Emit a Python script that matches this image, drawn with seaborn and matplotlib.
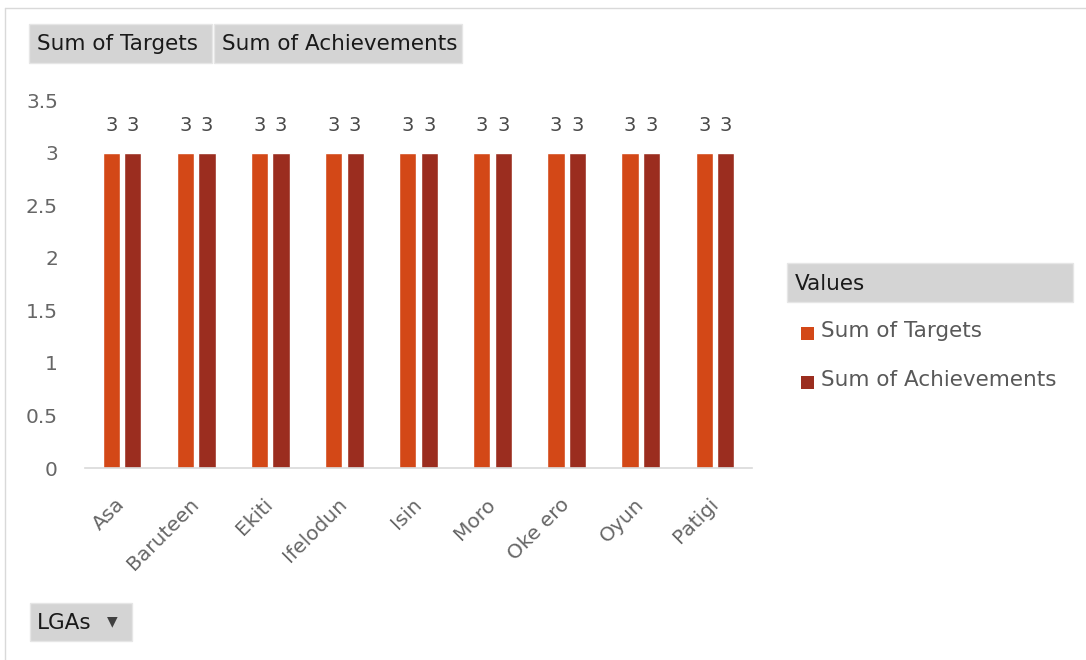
import matplotlib
matplotlib.use("Agg")
import matplotlib.pyplot as plt
from matplotlib.patches import Rectangle
from matplotlib.lines import Line2D
import pandas as pd
import seaborn as sns

lgas = ['Asa', 'Baruteen', 'Ekiti', 'Ifelodun', 'Isin', 'Moro', 'Oke ero', 'Oyun', 'Patigi']
targets = [3, 3, 3, 3, 3, 3, 3, 3, 3]
achievements = [3, 3, 3, 3, 3, 3, 3, 3, 3]
series = ['Sum of Targets', 'Sum of Achievements']
colors = ['#D34817', '#9B2D1F']
y_ticks = [0, 0.5, 1, 1.5, 2, 2.5, 3, 3.5]

df = pd.DataFrame({
    'LGA': lgas * 2,
    'Value': targets + achievements,
    'Series': [series[0]] * len(lgas) + [series[1]] * len(lgas),
})

sns.set_theme(style="white")
plt.rcParams['font.family'] = ['DejaVu Sans']

fig = plt.figure(figsize=(10.86, 6.6), dpi=100)
W, H = 1086, 660
ax = fig.add_axes([85 / W, 1 - 468 / H, (752 - 85) / W, (468 - 100) / H])

sns.barplot(data=df, x='LGA', y='Value', hue='Series', palette=colors,
            width=0.58, gap=0.2, ax=ax, legend=False, saturation=1)

for c in ax.containers:
    ax.bar_label(c, fmt='%g', padding=13, fontsize=14, color='#4a4a4a')

ax.set_ylim(0, 3.5)
ax.set_xlim(-0.5, len(lgas) - 0.5)
ax.set_yticks(y_ticks)
ax.set_yticklabels([f'{t:g}' for t in y_ticks], fontsize=14.5, color='#666666')
ax.set_xlabel('')
ax.set_ylabel('')
ax.tick_params(axis='y', length=0, pad=19.5)
ax.tick_params(axis='x', length=0, pad=24)
for lab in ax.get_xticklabels():
    lab.set_rotation(45)
    lab.set_ha('right')
    lab.set_va('center')
    lab.set_rotation_mode('anchor')
    lab.set_fontsize(14.5)
    lab.set_color('#666666')
for s in ['top', 'right', 'left']:
    ax.spines[s].set_visible(False)
ax.spines['bottom'].set_color('#d9d9d9')
ax.spines['bottom'].set_linewidth(1.2)


def box(x0, y0, x1, y1, label, tx=8, fs=15.5):
    fig.patches.append(Rectangle((x0 / W, 1 - y1 / H), (x1 - x0) / W, (y1 - y0) / H,
                                 transform=fig.transFigure, facecolor='#d4d4d4',
                                 edgecolor='#e6e6e6', linewidth=1))
    fig.text((x0 + tx) / W, 1 - (y0 + y1 + 2) / 2 / H, label, ha='left', va='center',
             fontsize=fs, color='#1a1a1a')


# outer border (top and left edges visible)
fig.add_artist(Line2D([5 / W, 1], [1 - 8 / H, 1 - 8 / H], transform=fig.transFigure,
                      color='#d9d9d9', linewidth=1))
fig.add_artist(Line2D([5 / W, 5 / W], [0, 1 - 8 / H], transform=fig.transFigure,
                      color='#d9d9d9', linewidth=1))

box(29, 24, 212, 63, 'Sum of Targets')
box(214, 24, 462, 63, 'Sum of Achievements')
box(787, 263, 1073, 302, 'Values')
box(30, 603, 132, 641, 'LGAs', tx=7)
fig.text(112 / W, 1 - 621 / H, '\u25BC', ha='center', va='center', fontsize=10, color='#404040')

# legend
for i, (name, col) in enumerate(zip(series, colors)):
    yc = 331 + i * 49
    fig.patches.append(Rectangle((801 / W, 1 - (yc + 9) / H), 13 / W, 13 / H,
                                 transform=fig.transFigure, facecolor=col, edgecolor='none'))
    fig.text(821 / W, 1 - yc / H, name, ha='left', va='center', fontsize=15.5, color='#595959')

plt.savefig('out.png', dpi=100)
